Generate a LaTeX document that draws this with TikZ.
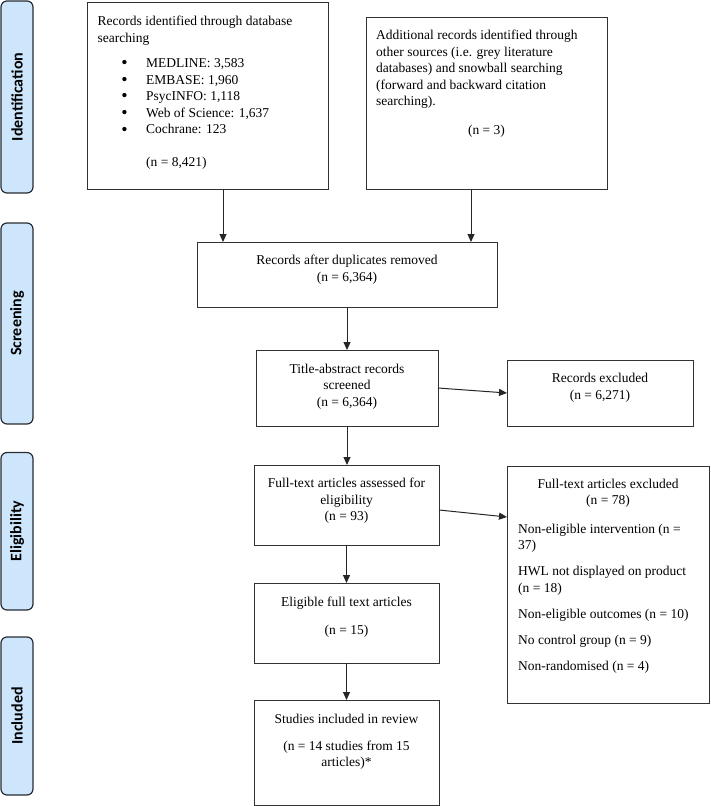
\documentclass[tikz,border=0pt]{standalone}
\usepackage{fontspec}
\setmainfont{Liberation Serif}
\newfontfamily\phasefont{Carlito}
\usetikzlibrary{arrows.meta,calc}
\definecolor{phasefill}{RGB}{206,230,252}
\definecolor{phaseline}{RGB}{40,44,52}
\definecolor{boxline}{RGB}{50,50,50}
\newcommand\bulitem{\makebox[48.5pt][l]{\hspace*{26.8pt}\makebox[0pt]{\raisebox{-1.2pt}{\fontsize{18}{18}\selectfont\textbullet}}}}
\begin{document}
\begin{tikzpicture}[x=1pt,y=-1pt,
  box/.style={draw=boxline, line width=1pt, inner sep=0pt, outer sep=0pt, anchor=north west},
  phase/.style={draw=phaseline, fill=phasefill, line width=1.2pt, rounded corners=6pt, rotate=90,
    inner sep=0pt, minimum height=32pt, font=\phasefont\bfseries\fontsize{16}{18}\selectfont},
  txt/.style={inner sep=0pt, font=\fontsize{13.5}{16.6}\selectfont},
  arr/.style={draw=black!85, line width=1pt, -{Triangle[length=8pt,width=7pt]}}]
\useasboundingbox (0,0) rectangle (710,806);

% phase labels
\node[phase, minimum width=192pt] (pI) at (17,97) {Identification};
\node[phase, minimum width=201pt] (pS) at (17,323.5) {Screening};
\node[phase, minimum width=157.5pt] (pE) at (17,531.25) {Eligibility};
\node[phase, minimum width=158pt] (pN) at (17,716) {Included};

% boxes
\node[box, minimum width=241pt, minimum height=187pt] (A) at (87,2) {};
\node[box, minimum width=241pt, minimum height=172pt] (B) at (366,17) {};
\node[box, minimum width=300pt, minimum height=65pt] (C) at (197,242) {};
\node[box, minimum width=182pt, minimum height=76pt] (D) at (256,350) {};
\node[box, minimum width=186pt, minimum height=66pt] (E) at (507,360) {};
\node[box, minimum width=185pt, minimum height=80pt] (F) at (254,465) {};
\node[box, minimum width=202pt, minimum height=237pt] (G) at (507,466) {};
\node[box, minimum width=185pt, minimum height=80pt] (H) at (254,583) {};
\node[box, minimum width=185pt, minimum height=105pt] (I) at (254,700) {};

% texts
\node[txt, anchor=north west, align=left] (tA) at (97.5,15.8) {Records identified through database\\searching\\[8.8pt]
\bulitem MEDLINE: 3,583\\
\bulitem EMBASE: 1,960\\
\bulitem PsycINFO: 1,118\\
\bulitem Web of Science: 1,637\\
\bulitem Cochrane: 123\\[16pt]
\hspace*{48.5pt}(n = 8,421)};
\node[txt, anchor=north west, align=left] (tB) at (376,29.8) {Additional records identified through\\other sources (i.e. grey literature\\databases) and snowball searching\\(forward and backward citation\\searching).};
\node[txt, anchor=north] (tB2) at (486.5,124.6) {(n = 3)};
\node[txt, anchor=north, align=center] (tC) at (347,254.8) {Records after duplicates removed\\(n = 6,364)};
\node[txt, anchor=north, align=center] (tD) at (347,363.8) {Title-abstract records\\screened\\(n = 6,364)};
\node[txt, anchor=north, align=center] (tE) at (600,373.3) {Records excluded\\(n = 6,271)};
\node[txt, anchor=north, align=center] (tF) at (346.5,477.8) {Full-text articles assessed for\\eligibility\\(n = 93)};
\node[txt, anchor=north, align=center] (tG) at (608,478.8) {Full-text articles excluded\\(n = 78)};
\node[txt, anchor=north west, align=left] (tG2) at (518,523.8) {Non-eligible intervention (n =\\37)\\[9.4pt]
HWL not displayed on product\\(n = 18)\\[9.4pt]
Non-eligible outcomes (n = 10)\\[9.4pt]
No control group (n = 9)\\[9.4pt]
Non-randomised (n = 4)};
\node[txt, anchor=north, align=center] (tH) at (346.5,596.8) {Eligible full text articles\\[11.4pt](n = 15)};
\node[txt, anchor=north, align=center] (tI) at (346.5,713.8) {Studies included in review\\[10.4pt](n = 14 studies from 15\\articles)*};

% connectors
\draw[arr] ([xshift=15.5pt]A.south) -- ([xshift=15.5pt]A.south |- C.north);
\draw[arr] ([xshift=-15.5pt]B.south) -- ([xshift=-15.5pt]B.south |- C.north);
\draw[arr] (C.south) -- (D.north);
\draw[arr] (D.east) -- (E.west);
\draw[arr] (D.south) -- (F.north -| D.south);
\draw[arr] ([yshift=-5pt]F.east) -- ([yshift=-51pt]G.north west);
\draw[arr] (F.south) -- (H.north);
\draw[arr] (H.south) -- (I.north);
\end{tikzpicture}
\end{document}
